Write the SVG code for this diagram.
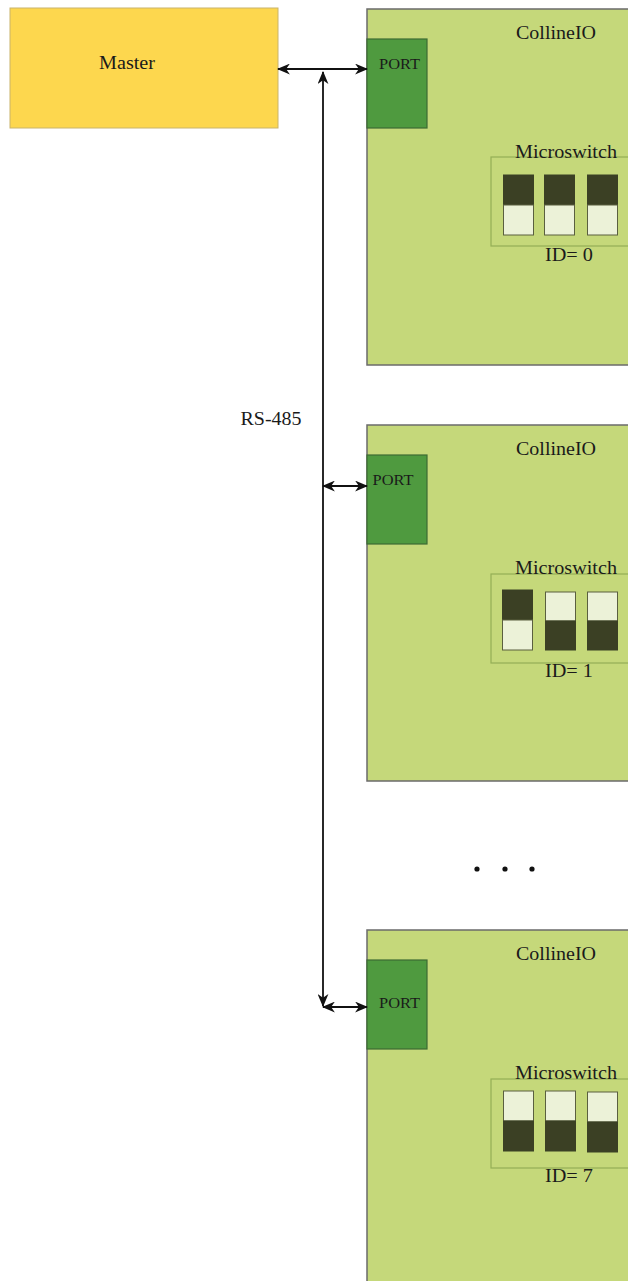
<svg xmlns="http://www.w3.org/2000/svg" width="628" height="1281" viewBox="0 0 628 1281">
<style>
text{font-family:"Liberation Serif","Times New Roman",serif;fill:#1a1a1a}
.t{font-size:18px}
.p{font-size:15px}
.dev{fill:#C5D87A;stroke:#6b6b6b;stroke-width:1.5}
.port{fill:#4F9A3F;stroke:#3d6b33;stroke-width:1.2}
.ms{fill:none;stroke:#93AE55;stroke-width:1.2}
.dk{fill:#3B4024;stroke:#3B4024}
.lt{fill:#ECF2D8;stroke:#5a5f3f;stroke-width:1}
.ln{stroke:#111;stroke-width:1.8;fill:none}
</style>
<defs>
<marker id="ah" viewBox="0 0 12 10" refX="11" refY="5" markerWidth="13" markerHeight="11" orient="auto-start-reverse" markerUnits="userSpaceOnUse">
<path d="M0,0 L12,5 L0,10 L3.5,5 Z" fill="#111"/>
</marker>
</defs>
<g id="master">
<rect x="10" y="8" width="268" height="120" fill="#FDD74E" stroke="#c9b46a" stroke-width="1"/>
<text class="t" x="127" y="69" text-anchor="middle" textLength="56" lengthAdjust="spacingAndGlyphs">Master</text>
</g>
<g id="dev0">
<rect class="dev" x="367" y="9" width="270" height="356"/>
<text class="t" x="556" y="39" text-anchor="middle" textLength="80" lengthAdjust="spacingAndGlyphs">CollineIO</text>
<rect class="port" x="367" y="39" width="60" height="89"/>
<text class="p" x="399.5" y="69" text-anchor="middle" textLength="41" lengthAdjust="spacingAndGlyphs">PORT</text>
<rect class="ms" x="491" y="157" width="145" height="89"/>
<text class="t" x="566" y="158" text-anchor="middle" textLength="102" lengthAdjust="spacingAndGlyphs">Microswitch</text>
<rect class="dk" x="503.5" y="175" width="30" height="30"/><rect class="lt" x="503.5" y="205" width="30" height="30"/>
<rect class="dk" x="544.5" y="175" width="30" height="30"/><rect class="lt" x="544.5" y="205" width="30" height="30"/>
<rect class="dk" x="587.5" y="175" width="30" height="30"/><rect class="lt" x="587.5" y="205" width="30" height="30"/>
<text class="t" x="569" y="261" text-anchor="middle" textLength="48" lengthAdjust="spacingAndGlyphs">ID= 0</text>
</g>
<g id="dev1">
<rect class="dev" x="367" y="425" width="270" height="356"/>
<text class="t" x="556" y="455" text-anchor="middle" textLength="80" lengthAdjust="spacingAndGlyphs">CollineIO</text>
<rect class="port" x="367" y="455" width="60" height="89"/>
<text class="p" x="393" y="485" text-anchor="middle" textLength="41" lengthAdjust="spacingAndGlyphs">PORT</text>
<rect class="ms" x="491" y="574" width="145" height="89"/>
<text class="t" x="566" y="574" text-anchor="middle" textLength="102" lengthAdjust="spacingAndGlyphs">Microswitch</text>
<rect class="dk" x="502.5" y="590" width="30" height="30"/><rect class="lt" x="502.5" y="620" width="30" height="30"/>
<rect class="lt" x="545.5" y="592" width="30" height="29"/><rect class="dk" x="545.5" y="621" width="30" height="29"/>
<rect class="lt" x="587.5" y="592" width="30" height="29"/><rect class="dk" x="587.5" y="621" width="30" height="29"/>
<text class="t" x="569" y="677" text-anchor="middle" textLength="48" lengthAdjust="spacingAndGlyphs">ID= 1</text>
</g>
<g id="dev7">
<rect class="dev" x="367" y="930" width="270" height="360"/>
<text class="t" x="556" y="960" text-anchor="middle" textLength="80" lengthAdjust="spacingAndGlyphs">CollineIO</text>
<rect class="port" x="367" y="960" width="60" height="89"/>
<text class="p" x="399.5" y="1008" text-anchor="middle" textLength="41" lengthAdjust="spacingAndGlyphs">PORT</text>
<rect class="ms" x="491" y="1079" width="145" height="89"/>
<text class="t" x="566" y="1079" text-anchor="middle" textLength="102" lengthAdjust="spacingAndGlyphs">Microswitch</text>
<rect class="lt" x="503.5" y="1091" width="30" height="30"/><rect class="dk" x="503.5" y="1121" width="30" height="30"/>
<rect class="lt" x="545.5" y="1091" width="30" height="30"/><rect class="dk" x="545.5" y="1121" width="30" height="30"/>
<rect class="lt" x="587.5" y="1092" width="30" height="30"/><rect class="dk" x="587.5" y="1122" width="30" height="30"/>
<text class="t" x="569" y="1182" text-anchor="middle" textLength="48" lengthAdjust="spacingAndGlyphs">ID= 7</text>
</g>
<g id="connectors">
<line class="ln" x1="278" y1="69" x2="367" y2="69" marker-start="url(#ah)" marker-end="url(#ah)"/>
<line class="ln" x1="323" y1="72" x2="323" y2="1006" marker-start="url(#ah)" marker-end="url(#ah)"/>
<line class="ln" x1="323" y1="486" x2="367" y2="486" marker-start="url(#ah)" marker-end="url(#ah)"/>
<line class="ln" x1="323" y1="1007" x2="367" y2="1007" marker-start="url(#ah)" marker-end="url(#ah)"/>
</g>
<text class="t" x="271" y="425" text-anchor="middle" textLength="61" lengthAdjust="spacingAndGlyphs">RS-485</text>
<g id="dots" fill="#111">
<circle cx="477" cy="869" r="2.6"/><circle cx="505" cy="869" r="2.6"/><circle cx="532" cy="869" r="2.6"/>
</g>
</svg>
